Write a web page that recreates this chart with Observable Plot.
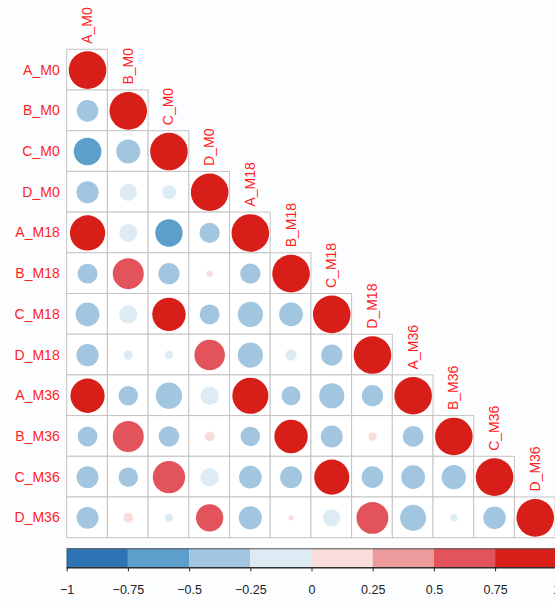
<!DOCTYPE html>
<html>
<head>
<meta charset="utf-8">
<script src="https://cdn.jsdelivr.net/npm/d3@7"></script>
<script src="https://cdn.jsdelivr.net/npm/@observablehq/plot@0.6"></script>
<style>
  html, body { margin: 0; padding: 0; background: #fcfdfe; }
  #chart { width: 555px; height: 601px; overflow: hidden; }
  #chart svg { display: block; }
</style>
</head>
<body>
<div id="chart"></div>
<script>
const vars = ["A_M0","B_M0","C_M0","D_M0","A_M18","B_M18","C_M18","D_M18","A_M36","B_M36","C_M36","D_M36"];
// lower triangle of the correlation matrix (row i, columns 0..i)
const lower = [
  [1],
  [-0.33, 1],
  [-0.54, -0.41, 1],
  [-0.35, -0.21, -0.14, 1],
  [0.88, -0.23, -0.53, -0.29, 1],
  [-0.28, 0.68, -0.32, 0.03, -0.29, 1],
  [-0.40, -0.23, 0.79, -0.28, -0.45, -0.40, 1],
  [-0.35, -0.06, -0.05, 0.66, -0.45, -0.09, -0.32, 1],
  [0.83, -0.27, -0.49, -0.24, 0.92, -0.26, -0.45, -0.32, 1],
  [-0.28, 0.68, -0.30, 0.07, -0.27, 0.79, -0.34, 0.05, -0.31, 1],
  [-0.34, -0.27, 0.74, -0.24, -0.36, -0.34, 0.87, -0.33, -0.40, -0.42, 1],
  [-0.34, 0.07, -0.05, 0.53, -0.38, 0.02, -0.21, 0.72, -0.48, -0.04, -0.36, 1]
];
const binBreaks = [-0.75, -0.5, -0.25, 0, 0.25, 0.5, 0.75];
const binColors = ["#2e74b5","#5c9fcb","#a3c6e0","#ddebf4","#f9dcdc","#ec9a9c","#e2535b","#d81e18"];
const legendTicks = [-1, -0.75, -0.5, -0.25, 0, 0.25, 0.5, 0.75, 1];
const legendEdges = [-1, -0.75, -0.5, -0.25, 0, 0.25, 0.5, 0.75, 1];

const cells = [];
lower.forEach((row, i) => row.forEach((v, j) => cells.push({row: vars[i], col: vars[j], value: v})));

const labelRed = "#ff1f1f";
const gridLeft = 66.7, gridTop = 49.3, cellSize = 40.7;

const main = Plot.plot({
  width: 555,
  height: 540,
  marginLeft: gridLeft,
  marginTop: gridTop,
  marginRight: 0,
  marginBottom: 2,
  style: {background: "transparent", fontFamily: "'Liberation Sans', Arial, Helvetica, sans-serif"},
  x: {domain: vars, range: [gridLeft, gridLeft + cellSize * vars.length], padding: 0, round: false, axis: null, label: null},
  y: {domain: vars, range: [gridTop, gridTop + cellSize * vars.length], padding: 0, round: false, label: null},
  color: {type: "threshold", domain: binBreaks, range: binColors},
  r: {type: "sqrt", domain: [0, 1], range: [0, 18.8]},
  marks: [
    Plot.cell(cells, {x: "col", y: "row", fill: "white", stroke: "#c4c4c4", strokeWidth: 1, inset: 0}),
    Plot.dot(cells, {x: "col", y: "row", r: d => Math.abs(d.value), fill: d => d.value, stroke: "none"}),
    Plot.axisY({anchor: "left", tickSize: 0, tickPadding: 7.5, fontSize: 14, fill: labelRed, label: null}),
    Plot.text(vars, {x: d => d, y: d => d, dy: -(cellSize / 2 + 6), rotate: -90, textAnchor: "start", fontSize: 14, fill: labelRed})
  ]
});

const legendBins = legendEdges.slice(0, -1).map((a, i) => ({x1: a, x2: legendEdges[i + 1], c: binColors[i]}));

const legend = Plot.plot({
  width: 555,
  height: 61,
  marginLeft: gridLeft,
  marginRight: 0,
  marginTop: 8.3,
  marginBottom: 33.7,
  style: {background: "transparent", color: "#222", fontFamily: "'Liberation Sans', Arial, Helvetica, sans-serif"},
  x: {domain: [-1, 1], range: [gridLeft, gridLeft + 489.6], axis: null},
  marks: [
    Plot.rect(legendBins, {x1: "x1", x2: "x2", fill: "c"}),
    Plot.frame({stroke: "#555", strokeWidth: 1}),
    Plot.frame({anchor: "bottom", stroke: "#111"}),
    Plot.axisX({anchor: "bottom", ticks: legendTicks, tickFormat: d => d3.format("")(d).replace("-", "\u2212"), tickSize: 4, tickPadding: 13, fontSize: 12.5})
  ]
});

const root = document.getElementById("chart");
root.appendChild(main);
root.appendChild(legend);
</script>
</body>
</html>
